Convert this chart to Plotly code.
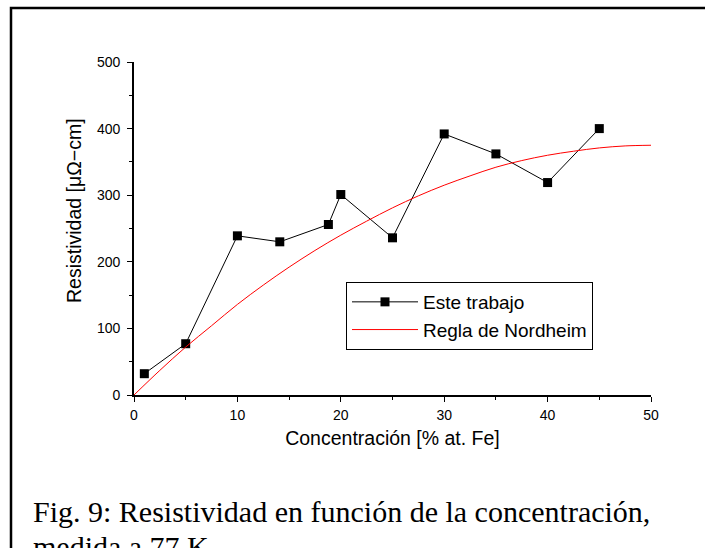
import plotly.graph_objects as go

# Data
conc_exp = [1, 5, 10, 14.1, 18.8, 20, 25, 30, 35, 40, 45]
rho_exp = [32, 77, 239, 230, 256, 301, 236, 392, 362, 319, 400]

conc_nord = [0, 2.5, 5, 7.5, 10, 12.5, 15, 17.5, 20, 22.5, 25, 27.5, 30, 32.5, 35, 37.5, 40, 42.5, 45, 47.5, 50]
rho_nord = [0, 37, 72, 104, 136, 165, 192, 217, 240, 261, 281, 299, 315, 329, 342, 352, 360, 366, 371, 374, 375]

x_ticks = [0, 10, 20, 30, 40, 50]
y_ticks = [0, 100, 200, 300, 400, 500]

x_title = "Concentración [% at. Fe]"
y_title = "Resistividad [μΩ−cm]"
caption_lines = ["Fig. 9: Resistividad en función de la concentración,", "medida a 77 K"]

W, H = 705, 548
ML, MR, MT, MB = 134, 54, 62, 153
PW, PH = W - ML - MR, H - MT - MB


def px(x):
    return (x - ML) / PW


def py(y):
    return (H - MB - y) / PH


SANS = "Liberation Sans, Arial"
SERIF = "Liberation Serif, Times New Roman"

fig = go.Figure()
fig.add_trace(go.Scatter(
    x=conc_exp, y=rho_exp, mode="lines+markers", name="Este trabajo",
    line=dict(color="black", width=1),
    marker=dict(symbol="square", size=9, color="black"),
    cliponaxis=False,
))
fig.add_trace(go.Scatter(
    x=conc_nord, y=rho_nord, mode="lines", name="Regla de Nordheim",
    line=dict(color="red", width=1, shape="spline"),
    cliponaxis=False,
))

axis_common = dict(
    showline=True, linecolor="black", linewidth=1.6,
    ticks="outside", ticklen=5, tickwidth=1.3, tickcolor="black",
    showgrid=False, zeroline=False,
    tickfont=dict(family=SANS, size=14, color="black"),
    title_font=dict(family=SANS, size=19.5, color="black"),
    minor=dict(ticks="outside", ticklen=3, tickwidth=1, tickcolor="black", showgrid=False),
)

fig.update_xaxes(range=[0, 50], tickvals=x_ticks, ticktext=[str(v) for v in x_ticks],
                 minor_dtick=5, title_text=x_title, title_standoff=10, ticklabelstandoff=1,
                 **axis_common)
fig.update_yaxes(range=[0, 500], tickvals=y_ticks, ticktext=[str(v) for v in y_ticks],
                 minor_dtick=50, ticklabelstandoff=4, **axis_common)

fig.update_layout(
    width=W, height=H,
    margin=dict(l=ML, r=MR, t=MT, b=MB),
    paper_bgcolor="white", plot_bgcolor="white",
    showlegend=True,
    legend=dict(
        x=px(346), y=py(282), xanchor="left", yanchor="top",
        bgcolor="white", bordercolor="black", borderwidth=1,
        font=dict(family=SANS, size=19, color="black"),
        itemwidth=66, tracegroupgap=0,
        entrywidth=278, entrywidthmode="pixels",
    ),
    shapes=[
        dict(type="rect", xref="paper", yref="paper",
             x0=px(11), x1=px(740), y0=py(600), y1=py(8),
             line=dict(color="black", width=2.5), fillcolor="rgba(0,0,0,0)", layer="below"),
    ],
    annotations=[
        dict(text=y_title, xref="paper", yref="paper",
             x=px(74), y=py(211), xanchor="center", yanchor="middle",
             textangle=-90, showarrow=False,
             font=dict(family=SANS, size=19.5, color="black")),
        dict(text=caption_lines[0], xref="paper", yref="paper",
             x=px(31), y=py(511), xanchor="left", yanchor="middle",
             align="left", showarrow=False,
             font=dict(family=SERIF, size=30, color="black")),
        dict(text=caption_lines[1], xref="paper", yref="paper",
             x=px(31), y=py(546), xanchor="left", yanchor="middle",
             align="left", showarrow=False,
             font=dict(family=SERIF, size=30, color="black")),
    ],
)

fig.write_html("out.html", config={"displayModeBar": False},
               post_script="document.body.style.margin='0px';")
